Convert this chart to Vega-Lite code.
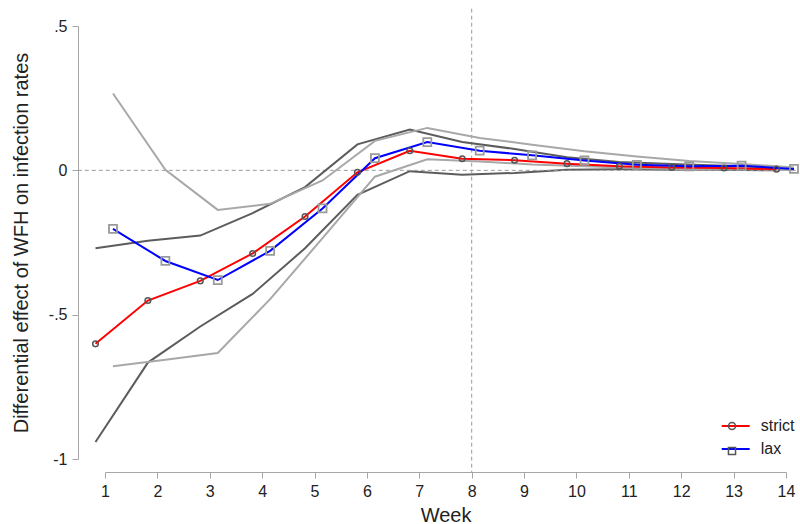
{
  "$schema": "https://vega.github.io/schema/vega-lite/v6.json",
  "autosize": {"type": "none"},
  "padding": {"left": 105, "top": 26, "right": 14, "bottom": 65},
  "width": 681,
  "height": 433,
  "background": "white",
  "config": {
    "view": {"stroke": null},
    "font": "Liberation Sans",
    "axis": {
      "grid": false,
      "domainColor": "#a6a6a6",
      "tickColor": "#a6a6a6",
      "tickSize": 6,
      "labelFontSize": 16,
      "labelColor": "#222222",
      "labelFont": "Liberation Sans",
      "titleFont": "Liberation Sans",
      "titleFontSize": 20,
      "titleFontWeight": "normal",
      "titleColor": "#222222"
    },
    "legend": {"labelFont": "Liberation Sans", "labelColor": "#222222", "labelFontSize": 16, "padding": 0}
  },
  "data": {
    "values": [
      {"week": 1, "group": "strict", "est": -0.601, "lo": -0.941, "hi": -0.270},
      {"week": 2, "group": "strict", "est": -0.451, "lo": -0.666, "hi": -0.244},
      {"week": 3, "group": "strict", "est": -0.383, "lo": -0.541, "hi": -0.226},
      {"week": 4, "group": "strict", "est": -0.288, "lo": -0.428, "hi": -0.148},
      {"week": 5, "group": "strict", "est": -0.160, "lo": -0.270, "hi": -0.058},
      {"week": 6, "group": "strict", "est": -0.007, "lo": -0.085, "hi": 0.090},
      {"week": 7, "group": "strict", "est": 0.068, "lo": -0.003, "hi": 0.141},
      {"week": 8, "group": "strict", "est": 0.040, "lo": -0.015, "hi": 0.098},
      {"week": 9, "group": "strict", "est": 0.035, "lo": -0.009, "hi": 0.074},
      {"week": 10, "group": "strict", "est": 0.023, "lo": 0.002, "hi": 0.045},
      {"week": 11, "group": "strict", "est": 0.014, "lo": 0.004, "hi": 0.029},
      {"week": 12, "group": "strict", "est": 0.010, "lo": 0.002, "hi": 0.022},
      {"week": 13, "group": "strict", "est": 0.008, "lo": 0.002, "hi": 0.016},
      {"week": 14, "group": "strict", "est": 0.004, "lo": 0.000, "hi": 0.009},
      {"week": 1, "group": "lax", "est": -0.203, "lo": -0.679, "hi": 0.266},
      {"week": 2, "group": "lax", "est": -0.314, "lo": -0.656, "hi": 0.002},
      {"week": 3, "group": "lax", "est": -0.380, "lo": -0.633, "hi": -0.137},
      {"week": 4, "group": "lax", "est": -0.279, "lo": -0.446, "hi": -0.116},
      {"week": 5, "group": "lax", "est": -0.132, "lo": -0.235, "hi": -0.035},
      {"week": 6, "group": "lax", "est": 0.042, "lo": -0.022, "hi": 0.102},
      {"week": 7, "group": "lax", "est": 0.098, "lo": 0.038, "hi": 0.147},
      {"week": 8, "group": "lax", "est": 0.068, "lo": 0.031, "hi": 0.112},
      {"week": 9, "group": "lax", "est": 0.052, "lo": 0.020, "hi": 0.089},
      {"week": 10, "group": "lax", "est": 0.034, "lo": 0.014, "hi": 0.066},
      {"week": 11, "group": "lax", "est": 0.019, "lo": 0.008, "hi": 0.048},
      {"week": 12, "group": "lax", "est": 0.014, "lo": 0.004, "hi": 0.032},
      {"week": 13, "group": "lax", "est": 0.016, "lo": 0.006, "hi": 0.022},
      {"week": 14, "group": "lax", "est": 0.005, "lo": 0.000, "hi": 0.010}
    ]
  },
  "layer": [
    {
      "transform": [{"filter": "datum.group === 'strict'"}],
      "mark": {"type": "line", "color": "#5c5c5c", "strokeWidth": 2, "xOffset": -9.5},
      "encoding": {
        "x": {
          "field": "week", "type": "quantitative",
          "scale": {"domain": [1, 14], "nice": false, "zero": false},
          "axis": {"title": "Week", "values": [1,2,3,4,5,6,7,8,9,10,11,12,13,14], "offset": 13, "labelPadding": 5, "titlePadding": 6, "labelFlush": false}
        },
        "y": {
          "field": "lo", "type": "quantitative",
          "scale": {"domain": [-1, 0.5], "nice": false, "zero": false},
          "axis": {"title": "Differential effect of WFH on infection rates", "values": [-1, -0.5, 0, 0.5], "offset": 27, "labelPadding": 5, "titlePadding": 17,
            "labelExpr": "datum.value == 0.5 ? '.5' : datum.value == -0.5 ? '-.5' : datum.value == -1 ? '-1' : '0'"}
        }
      }
    },
    {
      "data": {"values": [{}]},
      "mark": {"type": "rule", "color": "#9a9a9a", "strokeDash": [4, 3], "strokeWidth": 1},
      "encoding": {
        "y": {"datum": 0, "type": "quantitative"},
        "x": {"datum": 0.48, "type": "quantitative"},
        "x2": {"datum": 14.2}
      }
    },
    {
      "data": {"values": [{}]},
      "mark": {"type": "rule", "color": "#9a9a9a", "strokeDash": [4, 3], "strokeWidth": 1},
      "encoding": {
        "x": {"datum": 8, "type": "quantitative"},
        "y": {"datum": 0.56, "type": "quantitative"},
        "y2": {"datum": -1.047}
      }
    },
    {
      "transform": [{"filter": "datum.group === 'strict'"}],
      "mark": {"type": "line", "color": "#5c5c5c", "strokeWidth": 2, "xOffset": -9.5},
      "encoding": {
        "x": {"field": "week", "type": "quantitative"},
        "y": {"field": "hi", "type": "quantitative"}
      }
    },
    {
      "transform": [{"filter": "datum.group === 'lax'"}],
      "mark": {"type": "line", "color": "#a8a8a8", "strokeWidth": 2, "xOffset": 8},
      "encoding": {
        "x": {"field": "week", "type": "quantitative"},
        "y": {"field": "lo", "type": "quantitative"}
      }
    },
    {
      "transform": [{"filter": "datum.group === 'lax'"}],
      "mark": {"type": "line", "color": "#a8a8a8", "strokeWidth": 2, "xOffset": 8},
      "encoding": {
        "x": {"field": "week", "type": "quantitative"},
        "y": {"field": "hi", "type": "quantitative"}
      }
    },
    {
      "transform": [{"filter": "datum.group === 'strict'"}],
      "mark": {"type": "line", "strokeWidth": 2, "xOffset": -9.5},
      "encoding": {
        "x": {"field": "week", "type": "quantitative"},
        "y": {"field": "est", "type": "quantitative"},
        "color": {
          "field": "group", "type": "nominal",
          "scale": {"domain": ["strict", "lax"], "range": ["#ff0000", "#0000ff"]},
          "legend": {"title": null, "orient": "none", "legendX": 615.7, "legendY": 385, "symbolType": "stroke", "symbolSize": 784, "symbolStrokeWidth": 2, "labelOffset": 10, "rowPadding": -3, "padding": 0}
        }
      }
    },
    {
      "transform": [{"filter": "datum.group === 'lax'"}],
      "mark": {"type": "line", "strokeWidth": 2, "xOffset": 8},
      "encoding": {
        "x": {"field": "week", "type": "quantitative"},
        "y": {"field": "est", "type": "quantitative"},
        "color": {"field": "group", "type": "nominal"}
      }
    },
    {
      "transform": [{"filter": "datum.group === 'strict'"}],
      "mark": {"type": "point", "filled": false, "color": "#555555", "strokeWidth": 1.5, "size": 32, "opacity": 1, "xOffset": -9.5},
      "encoding": {
        "x": {"field": "week", "type": "quantitative"},
        "y": {"field": "est", "type": "quantitative"},
        "shape": {
          "field": "group", "type": "nominal",
          "scale": {"domain": ["strict", "lax"], "range": ["circle", "square"]},
          "legend": {"title": null, "orient": "bottom-right", "offset": 0.5, "labelExpr": "''", "labelOffset": 45.5, "rowPadding": 9, "symbolSize": 50, "padding": 0,
            "encode": {"symbols": {"update": {
              "stroke": {"signal": "datum.value === 'strict' ? '#555555' : '#9a9a9a'"},
              "strokeWidth": {"value": 1.5},
              "fill": {"value": "white"},
              "size": {"signal": "datum.value === 'strict' ? 32 : 64"}
            }}}}
        }
      }
    },
    {
      "transform": [{"filter": "datum.group === 'lax'"}],
      "mark": {"type": "point", "filled": false, "color": "#9a9a9a", "strokeWidth": 1.8, "size": 64, "opacity": 1, "xOffset": 8},
      "encoding": {
        "x": {"field": "week", "type": "quantitative"},
        "y": {"field": "est", "type": "quantitative"},
        "shape": {"field": "group", "type": "nominal"}
      }
    }
  ]
}
